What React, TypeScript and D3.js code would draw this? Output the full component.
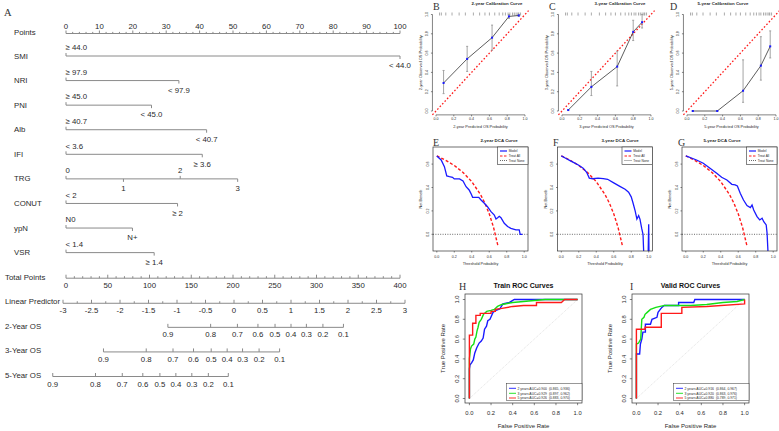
import React from 'react'
import * as d3 from 'd3'

const SANS = "'Liberation Sans', Arial, Helvetica, sans-serif"
const SERIF = "'Liberation Serif', 'Times New Roman', serif"

// ---------- A: nomogram ----------
const nomoVars = ['SMI', 'NRI', 'PNI', 'Alb', 'IFI', 'TRG', 'CONUT', 'ypN', 'VSR']
const nomoLevels = [
  ['≥ 44.0', '< 44.0'],
  ['≥ 97.9', '< 97.9'],
  ['≥ 45.0', '< 45.0'],
  ['≥ 40.7', '< 40.7'],
  ['< 3.6', '≥ 3.6'],
  ['0', '1', '2', '3'],
  ['< 2', '≥ 2'],
  ['N0', 'N+'],
  ['< 1.4', '≥ 1.4'],
]
const nomoPoints = [
  [0, 100],
  [0, 33.8],
  [0, 25.6],
  [0, 42.1],
  [0, 40.8],
  [0, 17.2, 34.2, 51.4],
  [0, 33.4],
  [0, 19.9],
  [0, 26.4],
]
const pointTicks = d3.range(0, 101, 2)
const totalTicks = d3.range(0, 401, 10)
const lpTicks = d3.range(-3, 3.001, 0.25)
const osRows = ['2-Year OS', '3-Year OS', '5-Year OS']
const osProbs = ['0.9', '0.8', '0.7', '0.6', '0.5', '0.4', '0.3', '0.2', '0.1']
const os2Lp = [-1.16, -0.41, 0.06, 0.42, 0.72, 1.0, 1.27, 1.56, 1.92]
const os3Lp = [-2.29, -1.54, -1.07, -0.71, -0.4, -0.12, 0.15, 0.44, 0.8]
const os5Lp = [-3.18, -2.43, -1.96, -1.6, -1.3, -1.02, -0.74, -0.45, -0.1]

// ---------- B-D: calibration ----------
const calYears = ['2-year', '3-year', '5-year']
const cal2Pred = [0.085, 0.35, 0.63, 0.82, 0.93]
const cal2Obs = [0.29, 0.54, 0.76, 0.98, 0.99]
const cal2Lo = [0.18, 0.41, 0.63, 0.96, 0.98]
const cal2Hi = [0.42, 0.67, 0.89, 1.0, 1.0]
const cal3Pred = [0.07, 0.33, 0.62, 0.8, 0.9]
const cal3Obs = [0.01, 0.25, 0.46, 0.82, 0.92]
const cal3Lo = [0.01, 0.16, 0.26, 0.73, 0.86]
const cal3Hi = [0.01, 0.41, 0.62, 0.94, 1.0]
const cal5Pred = [0.065, 0.34, 0.63, 0.83, 0.935]
const cal5Obs = [0.0, 0.0, 0.21, 0.47, 0.67]
const cal5Lo = [0.0, 0.0, 0.09, 0.32, 0.55]
const cal5Hi = [0.0, 0.0, 0.53, 0.77, 0.83]
const calRug = [0.04, 0.06, 0.11, 0.18, 0.26, 0.33, 0.42, 0.49, 0.55, 0.6, 0.66, 0.71, 0.75, 0.78, 0.81, 0.83, 0.86, 0.88, 0.9, 0.92, 0.93, 0.95]

// ---------- E-G: decision curves ----------
const dcaAllT = [0, 0.1, 0.2, 0.3, 0.4, 0.5, 0.55, 0.6, 0.65, 0.7]
const dcaAllNb = [0.67, 0.633, 0.588, 0.529, 0.45, 0.34, 0.267, 0.175, 0.057, -0.1]
const dca2T = [0, 0.05, 0.087, 0.114, 0.144, 0.18, 0.2, 0.26, 0.3, 0.335, 0.37, 0.39, 0.41, 0.48, 0.506, 0.544, 0.58, 0.62, 0.658, 0.677, 0.696, 0.715, 0.734, 0.772, 0.81, 0.848, 0.905, 0.943, 0.954, 0.98]
const dca2Nb = [0.67, 0.635, 0.578, 0.499, 0.493, 0.487, 0.473, 0.473, 0.456, 0.407, 0.379, 0.35, 0.316, 0.316, 0.293, 0.265, 0.236, 0.194, 0.165, 0.131, 0.142, 0.154, 0.142, 0.094, 0.066, 0.051, 0.037, 0.037, 0.0, 0.0]
const dca3T = [0, 0.05, 0.1, 0.15, 0.2, 0.25, 0.29, 0.32, 0.36, 0.42, 0.48, 0.53, 0.6, 0.67, 0.73, 0.77, 0.8, 0.82, 0.845, 0.865, 0.885, 0.9, 0.92, 0.935, 0.95, 0.99, 1.0, 1.005]
const dca3Nb = [0.67, 0.65, 0.63, 0.61, 0.59, 0.565, 0.53, 0.48, 0.475, 0.48, 0.475, 0.47, 0.44, 0.41, 0.385, 0.36, 0.32, 0.27, 0.2, 0.13, 0.16, 0.13, 0.05, 0.0, -0.3, -0.3, 0.085, -0.3]
const dca5T = [0, 0.123, 0.2, 0.277, 0.354, 0.41, 0.47, 0.527, 0.565, 0.59, 0.623, 0.66, 0.7, 0.738, 0.758, 0.777, 0.815, 0.846, 0.873, 0.892, 0.92, 0.93, 0.95]
const dca5Nb = [0.67, 0.635, 0.607, 0.564, 0.521, 0.487, 0.464, 0.427, 0.422, 0.413, 0.35, 0.293, 0.245, 0.228, 0.25, 0.208, 0.151, 0.123, 0.137, 0.108, 0.08, 0.009, -0.3]
const dcaLegend = ['Model', 'Treat All', 'Treat None']

// ---------- H-I: ROC ----------
const rocTitles = ['Train ROC Curves', 'Valid ROC Curves']
const trainAuc = ['2 years AUC=0.900  (0.865, 0.936)', '3 years AUC=0.929  (0.897, 0.962)', '5 years AUC=0.926  (0.883, 0.970)']
const validAuc = ['2 years AUC=0.916  (0.864, 0.967)', '3 years AUC=0.920  (0.863, 0.976)', '5 years AUC=0.880  (0.789, 0.971)']
const train2Fpr = [0, 0, 0.006, 0.02, 0.036, 0.05, 0.067, 0.09, 0.11, 0.127, 0.14, 0.158, 0.17, 0.19, 0.218, 0.24, 0.28, 0.31, 0.37, 0.415, 0.6, 1]
const train2Tpr = [0, 0.3, 0.34, 0.36, 0.39, 0.46, 0.51, 0.56, 0.58, 0.61, 0.7, 0.73, 0.785, 0.8, 0.87, 0.887, 0.904, 0.955, 0.97, 1.0, 1.0, 1.0]
const train3Fpr = [0, 0, 0.01, 0.02, 0.04, 0.05, 0.06, 0.07, 0.08, 0.09, 0.11, 0.13, 0.16, 0.2, 0.23, 0.26, 0.3, 0.4, 0.5, 0.6, 0.7, 0.85, 1]
const train3Tpr = [0, 0.4, 0.5, 0.53, 0.55, 0.6, 0.62, 0.68, 0.72, 0.77, 0.8, 0.85, 0.88, 0.89, 0.9, 0.93, 0.95, 0.97, 0.98, 0.99, 1.0, 1.0, 1.0]
const train5Fpr = [0, 0, 0.03, 0.03, 0.06, 0.06, 0.1, 0.1, 0.2, 0.2, 0.24, 0.24, 0.3, 0.4, 0.5, 0.62, 0.62, 0.85, 0.88, 1]
const train5Tpr = [0, 0.64, 0.64, 0.76, 0.76, 0.84, 0.84, 0.86, 0.86, 0.88, 0.88, 0.9, 0.91, 0.93, 0.94, 0.94, 0.97, 0.97, 1.0, 1.0]
const valid2Fpr = [0, 0, 0.03, 0.037, 0.05, 0.06, 0.083, 0.083, 0.13, 0.144, 0.19, 0.2, 0.235, 0.257, 0.39, 0.39, 0.53, 0.54, 1]
const valid2Tpr = [0, 0.45, 0.45, 0.55, 0.6, 0.67, 0.67, 0.75, 0.75, 0.8, 0.82, 0.87, 0.92, 0.94, 0.94, 0.97, 0.97, 1.0, 1.0]
const valid3Fpr = [0, 0, 0.02, 0.04, 0.05, 0.07, 0.08, 0.1, 0.13, 0.18, 0.22, 0.26, 0.5, 0.65, 0.8, 0.93, 1]
const valid3Tpr = [0, 0.55, 0.56, 0.6, 0.8, 0.82, 0.85, 0.87, 0.9, 0.92, 0.93, 0.94, 0.94, 0.95, 0.97, 0.98, 1.0]
const valid5Fpr = [0, 0, 0.08, 0.08, 0.23, 0.23, 0.42, 0.42, 0.65, 1, 1]
const valid5Tpr = [0, 0.7, 0.7, 0.72, 0.72, 0.86, 0.86, 0.92, 0.93, 0.955, 1.0]

const BLUE = '#1a1aff'
const RED = '#ff1a1a'
const GREEN = '#14e014'
const INK = '#2a2a2a'

const rot = (x: number, y: number) => `translate(${x},${y}) rotate(-90)`

function Nomogram() {
  const pts = d3.scaleLinear().domain([0, 100]).range([66, 400])
  const tot = d3.scaleLinear().domain([0, 400]).range([66, 400])
  const lp = d3.scaleLinear().domain([-3, 3]).range([63, 405])
  const rowY = d3.scaleLinear().domain([1, 14]).range([56, 375.5])
  const ln = '#8a8a8a'
  const fs = 7.8
  const T = (p: any) => <text fontSize={fs} fill={INK} dominantBaseline="central" {...p} />

  const pY = 33.5
  const totY = rowY(10) + 1
  const lpY = rowY(11) + 1.5
  const osLp = [os2Lp, os3Lp, os5Lp]

  return (
    <g>
      <text x={4} y={16} fontFamily={SERIF} fontSize={10.5} fill="#333">A</text>

      <T x={14} y={32.3}>Points</T>
      <line x1={pts(0)} x2={pts(100)} y1={pY} y2={pY} stroke={ln} />
      {pointTicks.map(t => (
        <line key={t} x1={pts(t)} x2={pts(t)} y1={pY} y2={pY - (t % 10 === 0 ? 3 : 1.6)} stroke={ln} />
      ))}
      {pointTicks.filter(t => t % 10 === 0).map(t => (
        <T key={'l' + t} x={pts(t)} y={26.7} textAnchor="middle">{t}</T>
      ))}

      {nomoVars.map((v, i) => {
        const y = rowY(i + 1)
        const p = nomoPoints[i]
        return (
          <g key={v}>
            <T x={14} y={y}>{v}</T>
            <line x1={pts(d3.min(p))} x2={pts(d3.max(p))} y1={y} y2={y} stroke={ln} />
            {p.map((q, k) => {
              const up = k % 2 === 0
              return (
                <g key={k}>
                  <line x1={pts(q)} x2={pts(q)} y1={y} y2={up ? y - 3 : y + 3} stroke={ln} />
                  <T x={q === 0 ? pts(q) - 0.5 : pts(q)} y={up ? y - 8.3 : y + 9.7}
                    textAnchor={q === 0 ? 'start' : 'middle'}>{nomoLevels[i][k]}</T>
                </g>
              )
            })}
          </g>
        )
      })}

      <T x={5} y={rowY(10)}>Total Points</T>
      <line x1={tot(0)} x2={tot(400)} y1={totY} y2={totY} stroke={ln} />
      {totalTicks.map(t => (
        <line key={'tt' + t} x1={tot(t)} x2={tot(t)} y1={totY} y2={totY - (t % 50 === 0 ? 3.5 : 2)} stroke={ln} />
      ))}
      {totalTicks.filter(t => t % 50 === 0).map(t => (
        <T key={'tl' + t} x={tot(t)} y={totY + 7.5} textAnchor="middle">{t}</T>
      ))}

      <T x={5} y={rowY(11)}>Linear Predictor</T>
      <line x1={lp(-3)} x2={lp(3)} y1={lpY} y2={lpY} stroke={ln} />
      {lpTicks.map((t, k) => (
        <line key={'lt' + k} x1={lp(t)} x2={lp(t)} y1={lpY} y2={lpY - (k % 2 === 0 ? 3.5 : 2)} stroke={ln} />
      ))}
      {lpTicks.filter((t, k) => k % 2 === 0).map(t => (
        <T key={'ll' + t} x={lp(t)} y={lpY + 7.5} textAnchor="middle">{String(Math.round(t * 10) / 10)}</T>
      ))}

      {osRows.map((r, j) => {
        const y = rowY(12 + j) + 1
        const vals = osLp[j]
        return (
          <g key={r}>
            <T x={5} y={rowY(12 + j)}>{r}</T>
            <line x1={lp(vals[0])} x2={lp(vals[vals.length - 1])} y1={y} y2={y} stroke={ln} />
            {vals.map((v, k) => (
              <g key={k}>
                <line x1={lp(v)} x2={lp(v)} y1={y} y2={y - 3.5} stroke={ln} />
                <T x={lp(v)} y={y + 7.5} textAnchor="middle">{osProbs[k]}</T>
              </g>
            ))}
          </g>
        )
      })}
    </g>
  )
}

const calPred = [cal2Pred, cal3Pred, cal5Pred]
const calObs = [cal2Obs, cal3Obs, cal5Obs]
const calLo = [cal2Lo, cal3Lo, cal5Lo]
const calHi = [cal2Hi, cal3Hi, cal5Hi]

function CalPanel({ idx }: { idx: number }) {
  const x0 = [436, 562, 687][idx]
  const titleX = [497, 620, 723][idx]
  const letterX = [433, 549, 670][idx]
  const x = d3.scaleLinear().domain([0, 1]).range([x0, x0 + 89])
  const y = d3.scaleLinear().domain([0, 1]).range([111, 14.5])
  const ax = x(-0.04)
  const ay = y(-0.04)
  const ticks = [0, 0.2, 0.4, 0.6, 0.8, 1]
  const pred = calPred[idx]
  const line = d3.line<number>().x((_, k) => x(pred[k])).y(d => y(d))
  const fs = 3.6
  return (
    <g>
      <text x={letterX} y={9.5} fontFamily={SERIF} fontSize={10} fill="#333">{'BCD'[idx]}</text>
      <text x={titleX} y={5.3} fontSize={4.4} fontWeight="bold" textAnchor="middle" fill={INK}>
        {calYears[idx]} Calibration Curve
      </text>
      <line x1={ax} x2={ax} y1={y(0)} y2={y(1)} stroke="#333" strokeWidth={0.6} />
      <line x1={x(0)} x2={x(1)} y1={ay} y2={ay} stroke="#333" strokeWidth={0.6} />
      {ticks.map(t => (
        <g key={t}>
          <line x1={ax} x2={ax - 1.5} y1={y(t)} y2={y(t)} stroke="#333" strokeWidth={0.6} />
          <text transform={rot(ax - 4, y(t))} fontSize={fs} textAnchor="middle" fill={INK}>{t.toFixed(1)}</text>
          <line x1={x(t)} x2={x(t)} y1={ay} y2={ay + 1.5} stroke="#333" strokeWidth={0.6} />
          <text x={x(t)} y={ay + 5.3} fontSize={fs} textAnchor="middle" fill={INK}>{t.toFixed(1)}</text>
        </g>
      ))}
      <text transform={rot(x0 - 14, y(0.5))} fontSize={3.9} textAnchor="middle" fill={INK}>
        {calYears[idx]} Observed OS Probability
      </text>
      <text x={x(0.5)} y={ay + 13} fontSize={3.9} textAnchor="middle" fill={INK}>
        {calYears[idx]} Predicted OS Probability
      </text>
      {calRug.map((r, k) => (
        <line key={k} x1={x(r)} x2={x(r)} y1={y(1) - 2} y2={y(1) + 1} stroke="#555" strokeWidth={0.5} />
      ))}
      <line x1={x(-0.04)} y1={y(-0.04)} x2={x(1.04)} y2={y(1.04)} stroke={RED} strokeWidth={1.3} strokeDasharray="1.6,2" />
      {pred.map((p, k) => (
        <g key={k} stroke="#9a9a9a" strokeWidth={0.9}>
          <line x1={x(p)} x2={x(p)} y1={y(calLo[idx][k])} y2={y(calHi[idx][k])} />
          <line x1={x(p) - 1} x2={x(p) + 1} y1={y(calLo[idx][k])} y2={y(calLo[idx][k])} />
          <line x1={x(p) - 1} x2={x(p) + 1} y1={y(calHi[idx][k])} y2={y(calHi[idx][k])} />
        </g>
      ))}
      <path d={line(calObs[idx]) || ''} fill="none" stroke="#333" strokeWidth={0.8} />
      {pred.map((p, k) => (
        <rect key={k} x={x(p) - 1} y={y(calObs[idx][k]) - 1} width={2} height={2} fill={BLUE} />
      ))}
    </g>
  )
}

const dcaT = [dca2T, dca3T, dca5T]
const dcaNb = [dca2Nb, dca3Nb, dca5Nb]

function DcaPanel({ idx }: { idx: number }) {
  const L = [433, 557.5, 682][idx]
  const titleX = [499, 620, 722][idx]
  const letterX = [433, 553, 678][idx]
  const Wd = 95
  const top = 147
  const bot = 251
  const R = L + Wd
  const x = d3.scaleLinear().domain([0, 1]).range([L + 3.8, R - 3.8])
  const y = d3.scaleLinear().domain([0, 0.6]).range([234.3, 164.1])
  const ts = dcaT[idx]
  const model = d3.line<number>().x((_, k) => x(ts[k])).y(d => y(d))
  const all = d3.line<number>().x((_, k) => x(dcaAllT[k])).y(d => y(d))
  const fs = 3.6
  const clip = 'dcaclip' + idx
  const legY = [top + 4, top + 9, top + 13.5]
  return (
    <g>
      <defs>
        <clipPath id={clip}><rect x={L} y={top} width={Wd} height={bot - top} /></clipPath>
      </defs>
      <text x={letterX} y={145.5} fontFamily={SERIF} fontSize={10} fill="#333">{'EFG'[idx]}</text>
      <text x={titleX} y={141.8} fontSize={4.4} fontWeight="bold" textAnchor="middle" fill={INK}>
        {calYears[idx]} DCA Curve
      </text>
      {[0, 0.2, 0.4, 0.6].map(t => (
        <g key={t}>
          <line x1={L} x2={L - 1.5} y1={y(t)} y2={y(t)} stroke="#333" strokeWidth={0.6} />
          <text transform={rot(L - 4.5, y(t))} fontSize={fs} textAnchor="middle" fill={INK}>{t.toFixed(1)}</text>
        </g>
      ))}
      {[0, 0.2, 0.4, 0.6, 0.8, 1].map(t => (
        <g key={t}>
          <line x1={x(t)} x2={x(t)} y1={bot} y2={bot + 1.5} stroke="#333" strokeWidth={0.6} />
          <text x={x(t)} y={bot + 7.2} fontSize={fs} textAnchor="middle" fill={INK}>{t.toFixed(1)}</text>
        </g>
      ))}
      <text transform={rot(L - 11, (top + bot) / 2)} fontSize={3.8} textAnchor="middle" fill={INK}>Net Benefit</text>
      <text x={(L + R) / 2} y={bot + 14} fontSize={3.8} textAnchor="middle" fill={INK}>Threshold Probability</text>
      <g clipPath={`url(#${clip})`}>
        <line x1={L} x2={R} y1={y(0)} y2={y(0)} stroke="#444" strokeWidth={0.8} strokeDasharray="1,1.4" />
        <path d={all(dcaAllNb) || ''} fill="none" stroke={RED} strokeWidth={1.4} strokeDasharray="3,2" />
        <path d={model(dcaNb[idx]) || ''} fill="none" stroke={BLUE} strokeWidth={1.3} />
      </g>
      <rect x={L} y={top} width={Wd} height={bot - top} fill="none" stroke="#333" strokeWidth={0.7} />
      <rect x={R - 30.5} y={top} width={30.5} height={17.5} fill="#fff" stroke="#333" strokeWidth={0.6} />
      {dcaLegend.map((s, k) => (
        <g key={s}>
          <line x1={R - 28} x2={R - 21} y1={legY[k]} y2={legY[k]}
            stroke={[BLUE, RED, '#444'][k]} strokeWidth={k === 2 ? 0.8 : 1.2}
            strokeDasharray={['', '2.5,1.5', '1,1'][k]} />
          <text x={R - 19.3} y={legY[k] + 1.1} fontSize={3.2} fill={INK}>{s}</text>
        </g>
      ))}
    </g>
  )
}

const rocFpr = [[train2Fpr, train3Fpr, train5Fpr], [valid2Fpr, valid3Fpr, valid5Fpr]]
const rocTpr = [[train2Tpr, train3Tpr, train5Tpr], [valid2Tpr, valid3Tpr, valid5Tpr]]
const rocAuc = [trainAuc, validAuc]

function RocPanel({ idx }: { idx: number }) {
  const L = [465, 632][idx]
  const letterX = [459, 630][idx]
  const Wd = 117
  const top = 294
  const bot = 403
  const R = L + Wd
  const x = d3.scaleLinear().domain([0, 1]).range([L + 4.4, R - 4.4])
  const y = d3.scaleLinear().domain([0, 1]).range([398.5, 299.5])
  const ticks = [0, 0.2, 0.4, 0.6, 0.8, 1]
  const colors = [BLUE, GREEN, RED]
  const fs = 5.8
  const legY = [388.3, 393.3, 398]
  return (
    <g>
      <text x={letterX} y={290} fontFamily={SERIF} fontSize={10} fill="#333">{'HI'[idx]}</text>
      <text x={(L + R) / 2} y={287.5} fontSize={7} fontWeight="bold" textAnchor="middle" fill="#111">{rocTitles[idx]}</text>
      <line x1={x(0)} y1={y(0)} x2={x(1)} y2={y(1)} stroke="#d9d9d9" strokeWidth={0.8} strokeDasharray="1,1" />
      {[0, 1, 2].map(c => {
        const f = rocFpr[idx][c]
        const path = d3.line<number>().x((_, k) => x(f[k])).y(d => y(d))
        return <path key={c} d={path(rocTpr[idx][c]) || ''} fill="none" stroke={colors[c]} strokeWidth={1.4} />
      })}
      <rect x={L} y={top} width={Wd} height={bot - top} fill="none" stroke="#333" strokeWidth={0.7} />
      {ticks.map(t => (
        <g key={t}>
          <line x1={x(t)} x2={x(t)} y1={bot} y2={bot + 2.2} stroke="#333" strokeWidth={0.6} />
          <text x={x(t)} y={bot + 11.5} fontSize={fs} textAnchor="middle" fill={INK}>{t.toFixed(1)}</text>
          <line x1={L} x2={L - 2.2} y1={y(t)} y2={y(t)} stroke="#333" strokeWidth={0.6} />
          <text transform={rot(L - 6, y(t))} fontSize={fs} textAnchor="middle" fill={INK}>{t.toFixed(1)}</text>
        </g>
      ))}
      <text transform={rot(L - 20.5, (top + bot) / 2)} fontSize={6} textAnchor="middle" fill={INK}>True Positive Rate</text>
      <text x={(L + R) / 2} y={428} fontSize={6} textAnchor="middle" fill={INK}>False Positive Rate</text>
      <rect x={R - 75.5} y={383.3} width={75.5} height={17.4} fill="#fff" stroke="#333" strokeWidth={0.5} />
      {rocAuc[idx].map((s, k) => (
        <g key={k}>
          <line x1={R - 73} x2={R - 66} y1={legY[k]} y2={legY[k]} stroke={colors[k]} strokeWidth={0.9} />
          <text x={R - 64.5} y={legY[k] + 1.2} fontSize={3.4} fill={INK} xmlSpace="preserve">{s}</text>
        </g>
      ))}
    </g>
  )
}

export default function App() {
  return (
    <svg width={779} height={431} viewBox="0 0 779 431" fontFamily={SANS}
      style={{ position: 'absolute', left: 0, top: 0, background: '#fff' }}>
      <rect width={779} height={431} fill="#fff" />
      <Nomogram />
      {[0, 1, 2].map(i => <CalPanel key={'c' + i} idx={i} />)}
      {[0, 1, 2].map(i => <DcaPanel key={'d' + i} idx={i} />)}
      {[0, 1].map(i => <RocPanel key={'r' + i} idx={i} />)}
    </svg>
  )
}
